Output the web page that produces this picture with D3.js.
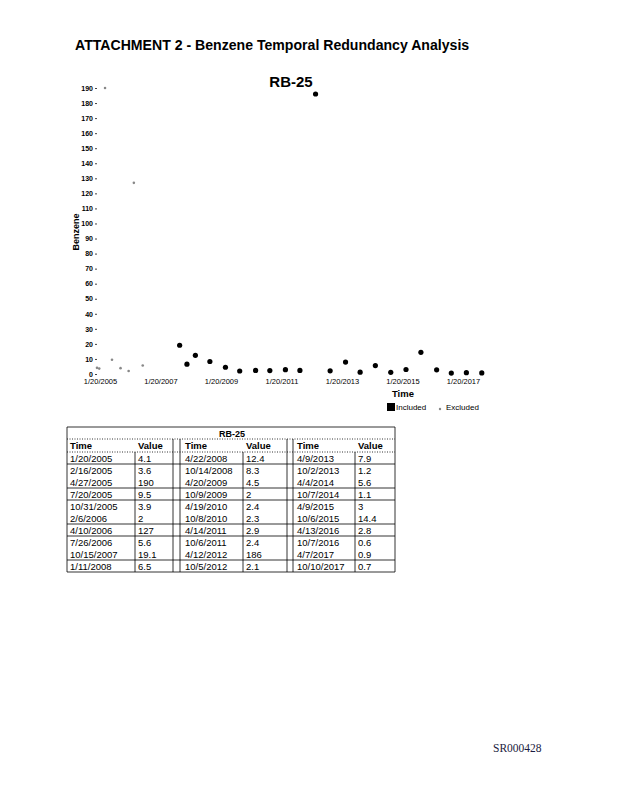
<!DOCTYPE html>
<html><head><meta charset="utf-8">
<script src="https://cdn.jsdelivr.net/npm/d3@7"></script>
<style>body{margin:0;background:#fff}svg{display:block}</style>
</head><body>
<script>
const times = ["1/20/2005","2/16/2005","4/27/2005","7/20/2005","10/31/2005","2/6/2006","4/10/2006","7/26/2006","10/15/2007","1/11/2008",
"4/22/2008","10/14/2008","4/20/2009","10/9/2009","4/19/2010","10/8/2010","4/14/2011","10/6/2011","4/12/2012","10/5/2012",
"4/9/2013","10/2/2013","4/4/2014","10/7/2014","4/9/2015","10/6/2015","4/13/2016","10/7/2016","4/7/2017","10/10/2017"];
const values = [4.1,3.6,190,9.5,3.9,2,127,5.6,19.1,6.5,
12.4,8.3,4.5,2,2.4,2.3,2.9,2.4,186,2.1,
7.9,1.2,5.6,1.1,3,14.4,2.8,0.6,0.9,0.7];
const included = [0,0,0,0,0,0,0,0,1,1, 1,1,1,1,1,1,1,1,1,1, 1,1,1,1,1,1,1,1,1,1];
const tableLabels = ["1/20/2005","2/16/2005","4/27/2005","7/20/2005","10/31/2005","2/6/2006","4/10/2006","7/26/2006","10/15/2007","1/11/2008",
"4/22/2008","10/14/2008","4/20/2009","10/9/2009","4/19/2010","10/8/2010","4/14/2011","10/6/2011","4/12/2012","10/5/2012",
"4/9/2013","10/2/2013","4/4/2014","10/7/2014","4/9/2015","10/6/2015","4/13/2016","10/7/2016","4/7/2017","10/10/2017"];
const xTicks = ["1/20/2005","1/20/2007","1/20/2009","1/20/2011","1/20/2013","1/20/2015","1/20/2017"];
const yTicks = d3.range(0,191,10);

const parse = d3.timeParse("%m/%d/%Y");
const fmt = d3.timeFormat("%-m/%-d/%Y");
const data = times.map((t,i)=>({t:parse(t), v:values[i], inc:included[i]}));

const svg = d3.select("body").append("svg").attr("width",618).attr("height",800);

svg.append("text").attr("x",75).attr("y",50).attr("font-family","Liberation Sans, Arial").attr("font-weight","bold").attr("font-size",14.1)
  .text("ATTACHMENT 2 - Benzene Temporal Redundancy Analysis");
svg.append("text").attr("x",291).attr("y",87).attr("text-anchor","middle").attr("font-family","Liberation Sans, Arial").attr("font-weight","bold").attr("font-size",15)
  .text("RB-25");

const x = d3.scaleTime().domain([parse("1/20/2005"), parse("1/20/2017")]).range([97,460]);
const y = d3.scaleLinear().domain([0,190]).range([374,88]);

const yAxis = svg.append("g").attr("transform","translate(97,0)")
  .call(d3.axisLeft(y).tickValues(yTicks).tickSize(2).tickPadding(2));
yAxis.select(".domain").remove();
yAxis.selectAll("text").attr("font-family","Liberation Sans Narrow, Liberation Sans, Arial").attr("font-weight","bold").attr("font-size",7);
yAxis.selectAll("line").attr("stroke","#444");

const xAxis = svg.append("g").attr("transform","translate(0,377)")
  .call(d3.axisBottom(x).tickValues(xTicks.map(parse)).tickFormat(fmt).tickSize(0).tickPadding(2));
xAxis.select(".domain").remove();
xAxis.selectAll("text").attr("font-family","Liberation Sans Narrow, Liberation Sans, Arial").attr("font-size",7.5).attr("dx",3);

svg.append("text").attr("transform","translate(79,232) rotate(-90)").attr("text-anchor","middle")
  .attr("font-family","Liberation Sans, Arial").attr("font-weight","bold").attr("font-size",9).text("Benzene");
svg.append("text").attr("x",403).attr("y",397).attr("text-anchor","middle")
  .attr("font-family","Liberation Sans, Arial").attr("font-weight","bold").attr("font-size",9.5).text("Time");

svg.append("g").selectAll("circle").data(data.filter(d=>!d.inc)).join("circle")
  .attr("cx",d=>x(d.t)).attr("cy",d=>y(d.v)).attr("r",1.3).attr("fill","#888");
svg.append("g").selectAll("circle").data(data.filter(d=>d.inc)).join("circle")
  .attr("cx",d=>x(d.t)).attr("cy",d=>y(d.v)).attr("r",2.6).attr("fill","#000");

// legend
svg.append("rect").attr("x",387).attr("y",403).attr("width",8).attr("height",8).attr("fill","#000");
svg.append("text").attr("x",396).attr("y",410).attr("font-family","Liberation Sans Narrow, Liberation Sans, Arial").attr("font-size",8).text("Included");
svg.append("circle").attr("cx",440).attr("cy",409).attr("r",1.2).attr("fill","#888");
svg.append("text").attr("x",446).attr("y",410).attr("font-family","Liberation Sans Narrow, Liberation Sans, Arial").attr("font-size",8).text("Excluded");

// table
const tb = svg.append("g").attr("font-family","Liberation Sans, Arial").attr("font-size",9.5);
const L=67,R=395,T=427,H1=439,H2=452,rowH=12,nRows=10;
const B = H2+rowH*nRows;
const colX=[[70,138],[185,246],[297,358]];
const line=(x1,y1,x2,y2,dash)=>tb.append("line").attr("x1",x1).attr("y1",y1).attr("x2",x2).attr("y2",y2)
  .attr("stroke","#000").attr("stroke-width",0.8).attr("stroke-dasharray",dash?"1,1.5":null);
line(L,T,R,T); line(L,B,R,B); line(L,T,L,B); line(R,T,R,B);
line(L,H1,R,H1,true); line(L,H2,R,H2,true);
[1,3,4,6,7,9].forEach(k=>line(L,H2+rowH*k,R,H2+rowH*k));
[173,180,287,293].forEach(xx=>line(xx,H1,xx,B));
[135,243,355].forEach(xx=>{
  line(xx,H2,xx,B,false);
});
tb.append("text").attr("x",232).attr("y",436.5).attr("text-anchor","middle").attr("font-weight","bold").attr("font-size",9).text("RB-25");
colX.forEach(([tx,vx])=>{
  tb.append("text").attr("x",tx).attr("y",449).attr("font-weight","bold").text("Time");
  tb.append("text").attr("x",vx).attr("y",449).attr("font-weight","bold").text("Value");
});
tableLabels.forEach((lab,i)=>{
  const c=Math.floor(i/nRows), r=i%nRows;
  const yy=H2+rowH*r+9.5;
  tb.append("text").attr("x",colX[c][0]).attr("y",yy).text(lab);
  tb.append("text").attr("x",colX[c][1]).attr("y",yy).text(values[i]);
});

svg.append("text").attr("x",493).attr("y",752).attr("font-family","Liberation Serif, Times New Roman").attr("font-size",11.5).attr("fill","#1a1a40").text("SR000428");
</script>
</body></html>
